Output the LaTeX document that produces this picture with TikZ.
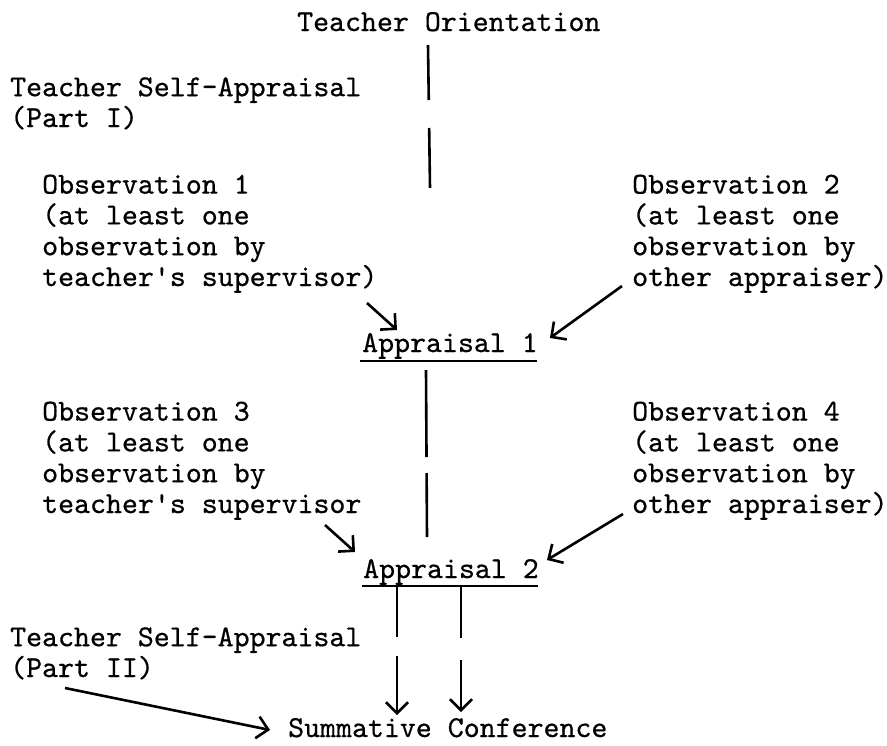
\documentclass[tikz,border=0pt]{standalone}
\usepackage{fontspec}
\newfontfamily\typer{lmmono10-regular.otf}[FakeBold=0.6]
\usetikzlibrary{arrows.meta,positioning}

\begin{document}
\begin{tikzpicture}[x=1pt, y=-1pt,
  every node/.style={inner sep=0pt, anchor=base west, align=left, font=\typer\fontsize{30.4}{30.8}\selectfont},
  stem/.style={line width=2.6pt},
  feed/.style={line width=2.6pt, -{Straight Barb[length=11pt,width=22pt]}},
  uline/.style={line width=1.8pt}
]
\useasboundingbox (0,0) rectangle (887,745);

\node (orient) at (297,31) {Teacher Orientation};
\node (self1) at (10,127) {Teacher Self-Appraisal\\(Part I)};
\node (obs1) at (42,286) {Observation 1\\(at least one\\observation by\\teacher's supervisor)};
\node (obs2) at (632,286) {Observation 2\\(at least one\\observation by\\other appraiser)};
\node (app1) at (362,352) {Appraisal 1};
\node (obs3) at (42,513) {Observation 3\\(at least one\\observation by\\teacher's supervisor};
\node (obs4) at (632,513) {Observation 4\\(at least one\\observation by\\other appraiser)};
\node (app2) at (363,578) {Appraisal 2};
\node (self2) at (10,677) {Teacher Self-Appraisal\\(Part II)};
\node (summ) at (288,737) {Summative Conference};

% broken stems
\draw[stem, dash pattern=on 55pt off 28pt on 60pt off 99pt]
  ([shift={(131pt,-14pt)}]orient.base west) -- ([shift={(133pt,-157pt)}]orient.base west);
\draw[stem, dash pattern=on 87pt off 16pt on 64pt off 99pt]
  ([shift={(64pt,-18pt)}]app1.base west) -- ([shift={(64pt,41pt)}]app2.base west);

% underlines
\draw[uline] ([shift={(-2pt,-9pt)}]app1.base west) -- ([shift={(-1pt,-9pt)}]app1.base east);
\draw[uline] ([shift={(-1pt,-8pt)}]app2.base west) -- ([shift={(-1pt,-8pt)}]app2.base east);

% observations into appraisals
\draw[feed] ([shift={(325pt,-17pt)}]obs1.base west) -- ([shift={(35pt,22pt)}]app1.base west);
\draw[feed] ([shift={(-10pt,0pt)}]obs2.base west) -- ([shift={(12pt,14pt)}]app1.base east);
\draw[feed] ([shift={(283pt,-12pt)}]obs3.base west) -- ([shift={(-8pt,26pt)}]app2.base west);
\draw[feed] ([shift={(-9pt,-1pt)}]obs4.base west) -- ([shift={(8pt,18pt)}]app2.base east);

% into the conference
\draw[feed, dash pattern=on 50pt off 19pt on 80pt]
  ([shift={(34pt,-9pt)}]app2.base west) -- ([shift={(109pt,22pt)}]summ.base west);
\draw[feed, dash pattern=on 51pt off 22pt on 80pt]
  ([shift={(98pt,-9pt)}]app2.base west) -- ([shift={(173pt,25pt)}]summ.base west);
\draw[feed] ([shift={(55pt,-11pt)}]self2.base west) -- ([shift={(-18pt,7pt)}]summ.base west);
\end{tikzpicture}
\end{document}
